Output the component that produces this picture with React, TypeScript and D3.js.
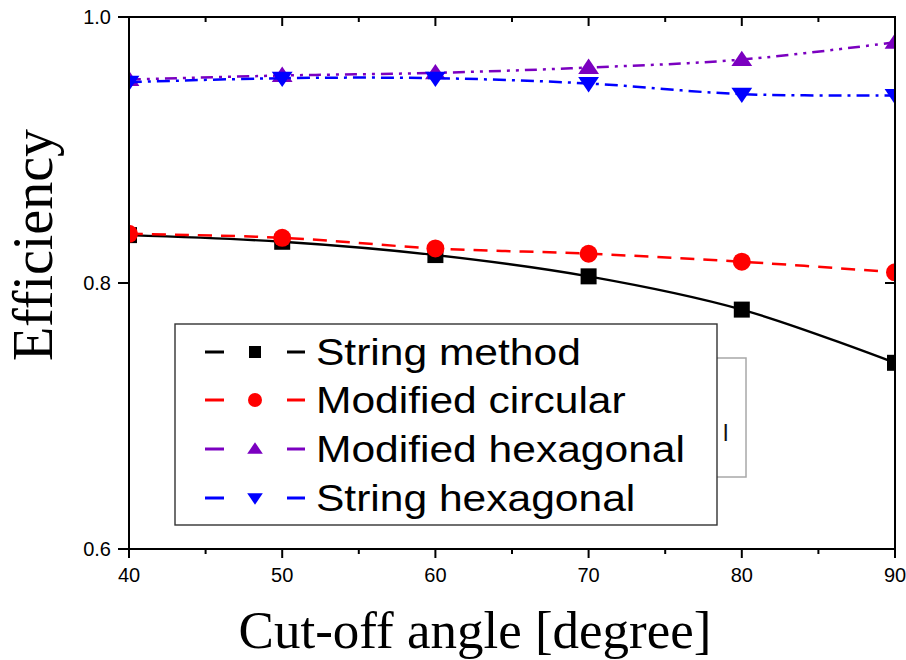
import React from "react";
import * as d3 from "d3";

const angles = [40, 50, 60, 70, 80, 90];
const stringMethod = [0.836, 0.831, 0.821, 0.805, 0.780, 0.740];
const modifiedCircular = [0.837, 0.834, 0.826, 0.822, 0.816, 0.808];
const modifiedHexagonal = [0.953, 0.956, 0.958, 0.962, 0.968, 0.981];
const stringHexagonal = [0.951, 0.954, 0.954, 0.950, 0.942, 0.941];
const seriesNames = ["String method", "Modified circular", "Modified hexagonal", "String hexagonal"];
const xTicks = [40, 50, 60, 70, 80, 90];
const xMinorTicks = [45, 55, 65, 75, 85];
const yTicks = [0.6, 0.8, 1.0];

const W = 906, H = 660;
const L = 129, R = 895, T = 17, B = 549;

type Series = { name: string; values: number[]; color: string; dash: string; marker: string; width: number };

const series: Series[] = [
  { name: seriesNames[0], values: stringMethod, color: "#000000", dash: "none", marker: "square", width: 2.4 },
  { name: seriesNames[1], values: modifiedCircular, color: "#ff0000", dash: "14,9", marker: "circle", width: 2.5 },
  { name: seriesNames[2], values: modifiedHexagonal, color: "#7b00c0", dash: "12,6,3,6,3,6", marker: "up", width: 2.5 },
  { name: seriesNames[3], values: stringHexagonal, color: "#0000ff", dash: "13,6,3,6", marker: "down", width: 2.5 },
];

function Marker({ type, x, y, s, color }: { type: string; x: number; y: number; s: number; color: string }) {
  if (type === "square") return <rect x={x - s / 2} y={y - s / 2} width={s} height={s} fill={color} />;
  if (type === "circle") return <circle cx={x} cy={y} r={s / 2 + 1} fill={color} />;
  const h = s * 0.9;
  const w = s * 1.3;
  if (type === "up")
    return <path d={`M${x},${y - h * 0.62} L${x + w / 2},${y + h * 0.45} L${x - w / 2},${y + h * 0.45} Z`} fill={color} />;
  return <path d={`M${x},${y + h * 0.62} L${x + w / 2},${y - h * 0.45} L${x - w / 2},${y - h * 0.45} Z`} fill={color} />;
}

export default function App() {
  const x = d3.scaleLinear().domain([40, 90]).range([L, R]);
  const y = d3.scaleLinear().domain([0.6, 1.0]).range([B, T]);
  const line = d3
    .line<number>()
    .x((_, i) => x(angles[i]))
    .y((d) => y(d))
    .curve(d3.curveCatmullRom.alpha(0.5));

  const legX = 175, legY = 324, legW = 542, legH = 201;
  const rowY = [352, 400, 449, 498];

  return (
    <svg width={W} height={H} style={{ position: "absolute", left: 0, top: 0, background: "#fff" }}>
      <defs>
        <clipPath id="plot">
          <rect x={L} y={T} width={R - L} height={B - T} />
        </clipPath>
      </defs>
      <rect x={0} y={0} width={W} height={H} fill="#fff" />

      {/* data */}
      <g clipPath="url(#plot)">
        {series.map((s) => (
          <g key={s.name}>
            <path d={line(s.values) || ""} fill="none" stroke={s.color} strokeWidth={s.width} strokeDasharray={s.dash} />
            {s.values.map((v, i) => (
              <Marker key={i} type={s.marker} x={x(angles[i])} y={y(v)} s={16} color={s.color} />
            ))}
          </g>
        ))}
      </g>

      {/* gray bracket box behind legend */}
      <rect x={600} y={358} width={146} height={119} fill="none" stroke="#a8a8a8" strokeWidth={1.5} />
      <text x={723} y={441} fontFamily="Liberation Sans, Arial, sans-serif" fontSize={24} fill="#111">l</text>

      {/* legend */}
      <rect x={legX} y={legY} width={legW} height={legH} fill="#fff" stroke="#333" strokeWidth={1.4} />
      {series.map((s, i) => (
        <g key={s.name}>
          <line x1={205} x2={224} y1={rowY[i]} y2={rowY[i]} stroke={s.color} strokeWidth={3} />
          <line x1={287} x2={305} y1={rowY[i]} y2={rowY[i]} stroke={s.color} strokeWidth={3} />
          <Marker type={s.marker} x={255} y={rowY[i]} s={12} color={s.color} />
          <text
            x={0}
            y={0}
            transform={`translate(316,${rowY[i] + 13}) scale(1.15,1)`}
            fontFamily="Liberation Sans, Arial, sans-serif"
            fontSize={37}
            fill="#000"
          >
            {s.name}
          </text>
        </g>
      ))}

      {/* axes frame */}
      <g stroke="#000" strokeWidth={2} fill="none">
        <line x1={L} x2={R} y1={B} y2={B} />
        <line x1={L} x2={R} y1={T} y2={T} />
        <line x1={L} x2={L} y1={T - 1} y2={B + 1} />
        <line x1={R} x2={R} y1={T - 1} y2={B + 1} />
        {xTicks.map((t) => (
          <g key={"xt" + t}>
            <line x1={x(t)} x2={x(t)} y1={B} y2={B + 9} />
            <line x1={x(t)} x2={x(t)} y1={T} y2={T + 9} />
          </g>
        ))}
        {xMinorTicks.map((t) => (
          <g key={"xm" + t}>
            <line x1={x(t)} x2={x(t)} y1={B} y2={B + 5} />
            <line x1={x(t)} x2={x(t)} y1={T} y2={T + 5} />
          </g>
        ))}
        {yTicks.map((t) => (
          <g key={"yt" + t}>
            <line x1={L - 11} x2={L} y1={y(t)} y2={y(t)} />
            <line x1={R - 10} x2={R} y1={y(t)} y2={y(t)} />
          </g>
        ))}
      </g>

      {/* tick labels */}
      {xTicks.map((t) => (
        <text key={"xl" + t} x={x(t)} y={582} textAnchor="middle" fontFamily="Liberation Sans, Arial, sans-serif" fontSize={20} fill="#000">
          {t}
        </text>
      ))}
      {yTicks.map((t) => (
        <text key={"yl" + t} x={111} y={y(t) + 7} textAnchor="end" fontFamily="Liberation Sans, Arial, sans-serif" fontSize={20} fill="#000">
          {d3.format(".1f")(t)}
        </text>
      ))}

      {/* axis titles */}
      <text x={475} y={648} textAnchor="middle" fontFamily="Liberation Serif, Times New Roman, serif" fontSize={53} fill="#000">
        Cut-off angle [degree]
      </text>
      <text
        transform={`translate(52,245) rotate(-90)`}
        textAnchor="middle"
        fontFamily="Liberation Serif, Times New Roman, serif"
        fontSize={56}
        fill="#000"
      >
        Efficiency
      </text>
    </svg>
  );
}
